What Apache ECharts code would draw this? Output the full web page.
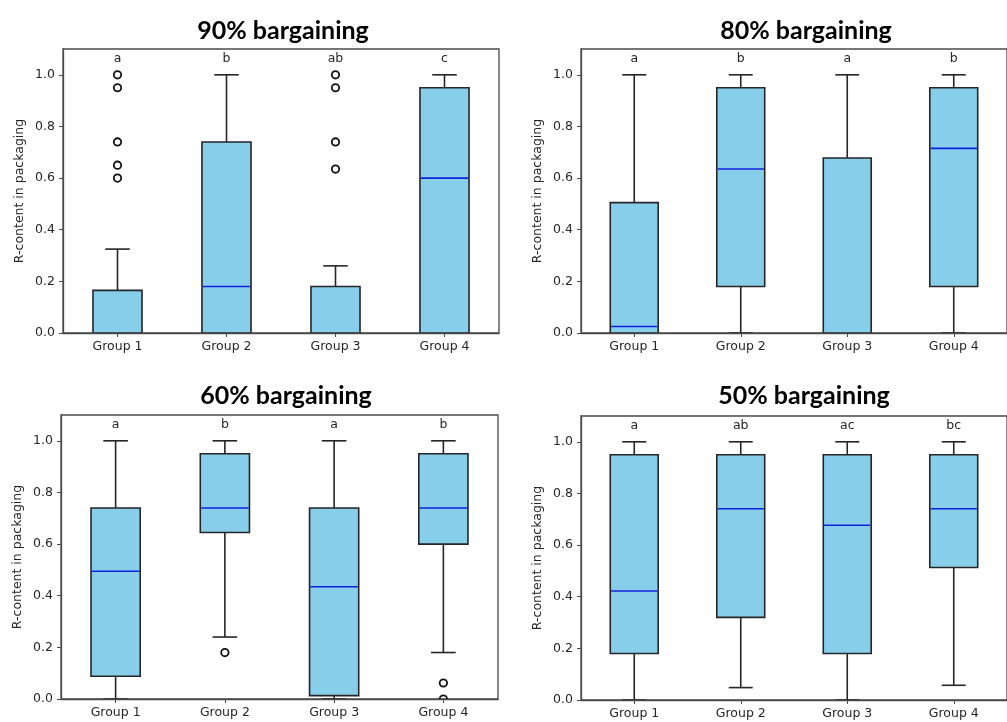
<!DOCTYPE html>
<html>
<head>
<meta charset="utf-8">
<title>R-content in packaging by bargaining level</title>
<script src="https://cdn.jsdelivr.net/npm/echarts@6/dist/echarts.min.js"></script>
<style>
  html, body { margin: 0; padding: 0; background: #fff; }
  #chart { width: 1007px; height: 722px; }
</style>
</head>
<body>
<div id="chart"></div>
<script>
// Categories and axis ticks
const groups = ['Group 1', 'Group 2', 'Group 3', 'Group 4'];
const yTicks = [0, 0.2, 0.4, 0.6, 0.8, 1.0];
const panelTitles = ['90% bargaining', '80% bargaining', '60% bargaining', '50% bargaining'];

// Box statistics per group: [lower whisker, Q1, median, Q3, upper whisker]
const box90 = [
  [0, 0, 0, 0.165, 0.325],
  [0, 0, 0.18, 0.74, 1.0],
  [0, 0, 0, 0.18, 0.26],
  [0, 0, 0.60, 0.95, 1.0]
];
const box80 = [
  [0, 0, 0.025, 0.505, 1.0],
  [0, 0.18, 0.635, 0.95, 1.0],
  [0, 0, 0, 0.678, 1.0],
  [0, 0.18, 0.715, 0.95, 1.0]
];
const box60 = [
  [0, 0.088, 0.495, 0.74, 1.0],
  [0.24, 0.645, 0.74, 0.95, 1.0],
  [0, 0.013, 0.435, 0.74, 1.0],
  [0.18, 0.60, 0.74, 0.95, 1.0]
];
const box50 = [
  [0, 0.18, 0.422, 0.95, 1.0],
  [0.048, 0.32, 0.741, 0.95, 1.0],
  [0, 0.18, 0.677, 0.95, 1.0],
  [0.057, 0.513, 0.741, 0.95, 1.0]
];

// Outliers: [group index, value]
const out90 = [[0, 1.0], [0, 0.95], [0, 0.74], [0, 0.65], [0, 0.60],
               [2, 1.0], [2, 0.95], [2, 0.74], [2, 0.635]];
const out80 = [];
const out60 = [[1, 0.18], [3, 0.062], [3, 0.0]];
const out50 = [];

// Significance letters above each group
const letters90 = ['a', 'b', 'ab', 'c'];
const letters80 = ['a', 'b', 'a', 'b'];
const letters60 = ['a', 'b', 'a', 'b'];
const letters50 = ['a', 'ab', 'ac', 'bc'];
const letterLevel = 1.066;

const panels = [
  { box: box90, out: out90, letters: letters90 },
  { box: box80, out: out80, letters: letters80 },
  { box: box60, out: out60, letters: letters60 },
  { box: box50, out: out50, letters: letters50 }
];

// Layout of the four plot frames (pixels)
const grids = [
  { left: 63, top: 49, width: 436, height: 284 },
  { left: 581, top: 49, width: 436, height: 284 },
  { left: 61, top: 415, width: 437, height: 284 },
  { left: 581, top: 416, width: 436, height: 284 }
];
const titlePos = [[278, 13], [801, 13], [281, 378], [799, 378]];

const FILL = '#87CEEB';
const EDGE = '#262626';
const MEDIAN = '#1020d8';
const FRAME = '#4a4a4a';
const TEXT = '#262626';
const FONT = 'DejaVu Sans';

function clipTo(params, child) {
  const cs = params.coordSys;
  return {
    type: 'group',
    clipPath: { type: 'rect', shape: { x: cs.x, y: cs.y, width: cs.width, height: cs.height } },
    children: Array.isArray(child) ? child : [child]
  };
}

function renderBox(params, api) {
  const idx = api.value(0);
  const lo = api.coord([idx, api.value(1)]);
  const q1 = api.coord([idx, api.value(2)]);
  const md = api.coord([idx, api.value(3)]);
  const q3 = api.coord([idx, api.value(4)]);
  const hi = api.coord([idx, api.value(5)]);
  const band = api.size([1, 0])[0];
  const bw = band * 0.45;
  const cw = bw / 2;
  const cx = q1[0];
  const floorY = params.coordSys.y + params.coordSys.height;
  const line = (x1, y1, x2, y2, color) => ({
    type: 'line',
    shape: { x1, y1, x2, y2 },
    style: { stroke: color, lineWidth: 1.6 }
  });
  const children = [];
  // whiskers and caps
  children.push(line(cx, q3[1], cx, hi[1], EDGE));
  children.push(line(cx - cw / 2, hi[1], cx + cw / 2, hi[1], EDGE));
  children.push(line(cx, q1[1], cx, lo[1], EDGE));
  children.push(line(cx - cw / 2, lo[1], cx + cw / 2, lo[1], EDGE));
  // box from Q1 to Q3
  children.push({
    type: 'rect',
    shape: { x: cx - bw / 2, y: q3[1], width: bw, height: q1[1] - q3[1] },
    style: { fill: FILL, stroke: EDGE, lineWidth: 1.6 }
  });
  // median line (hidden behind the bottom spine when it sits on it)
  if (md[1] < floorY - 1) {
    children.push(line(cx - bw / 2 + 0.8, md[1], cx + bw / 2 - 0.8, md[1], MEDIAN));
  }
  return clipTo(params, children);
}

function renderOutlier(params, api) {
  const p = api.coord([api.value(0), api.value(1)]);
  return clipTo(params, {
    type: 'circle',
    shape: { cx: p[0], cy: p[1], r: 3.7 },
    style: { fill: 'none', stroke: '#111', lineWidth: 1.8 }
  });
}

const option = {
  animation: false,
  backgroundColor: '#fff',
  title: panelTitles.map((t, i) => ({
    text: t,
    left: titlePos[i][0],
    top: titlePos[i][1],
    textAlign: 'center',
    textStyle: { fontFamily: 'Lato', fontWeight: 'bold', fontSize: 25, color: '#000' }
  })),
  grid: grids.map(g => Object.assign({ show: true, borderColor: FRAME, borderWidth: 1.3, backgroundColor: 'transparent' }, g)),
  xAxis: grids.map((g, i) => ({
    type: 'category',
    gridIndex: i,
    data: groups,
    boundaryGap: true,
    z: 5,
    axisLine: { show: true, lineStyle: { color: FRAME, width: 1.3 } },
    axisTick: { show: true, alignWithLabel: true, length: 4, lineStyle: { color: FRAME } },
    axisLabel: { color: TEXT, fontFamily: FONT, fontSize: 12.5, margin: 7 },
    splitLine: { show: false }
  })),
  yAxis: grids.map((g, i) => ({
    type: 'value',
    gridIndex: i,
    min: 0,
    max: 1.1,
    interval: 0.2,
    z: 5,
    name: 'R-content in packaging',
    nameLocation: 'middle',
    nameRotate: 90,
    nameGap: 37,
    nameTextStyle: { color: TEXT, fontFamily: FONT, fontSize: 12.5 },
    axisLine: { show: true, lineStyle: { color: FRAME, width: 1.3 } },
    axisTick: { show: true, length: 4, lineStyle: { color: FRAME }, customValues: yTicks },
    axisLabel: { color: TEXT, fontFamily: FONT, fontSize: 12.5, margin: 8,
                 customValues: yTicks, formatter: v => v.toFixed(1) },
    splitLine: { show: false }
  })),
  series: []
};

panels.forEach((p, i) => {
  option.series.push({
    type: 'custom',
    xAxisIndex: i, yAxisIndex: i,
    renderItem: renderBox,
    encode: { x: 0, y: [1, 2, 3, 4, 5] },
    data: p.box.map((b, k) => [k].concat(b)),
    z: 2
  });
  option.series.push({
    type: 'custom',
    xAxisIndex: i, yAxisIndex: i,
    renderItem: renderOutlier,
    encode: { x: 0, y: 1 },
    data: p.out,
    z: 2
  });
  option.series.push({
    type: 'custom',
    xAxisIndex: i, yAxisIndex: i,
    renderItem: (params, api) => {
      const pt = api.coord([api.value(0), letterLevel]);
      return {
        type: 'text',
        x: pt[0], y: pt[1] + 1,
        style: {
          text: p.letters[api.value(0)],
          fill: TEXT,
          font: '12.5px "DejaVu Sans"',
          textAlign: 'center',
          textVerticalAlign: 'middle'
        }
      };
    },
    encode: { x: 0 },
    data: p.letters.map((l, k) => [k]),
    z: 2
  });
});

const chart = echarts.init(document.getElementById('chart'), null, { renderer: 'canvas' });
chart.setOption(option);
</script>
</body>
</html>
